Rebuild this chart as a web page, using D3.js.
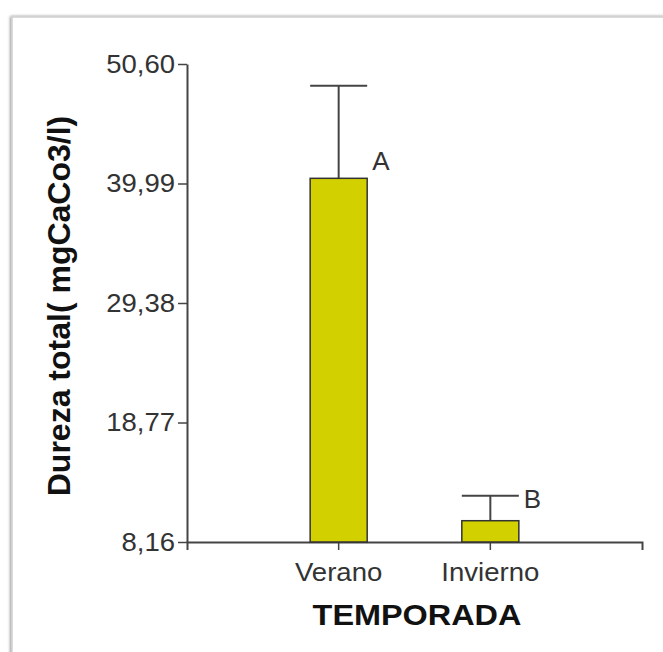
<!DOCTYPE html>
<html>
<head>
<meta charset="utf-8">
<script src="https://cdn.jsdelivr.net/npm/d3@7"></script>
<style>
  html, body { margin: 0; padding: 0; background: #fff; }
  svg { display: block; }
  text { font-family: "Liberation Sans", Arial, sans-serif; }
</style>
</head>
<body>
<svg id="chart" width="663" height="652"></svg>
<script>
// Hardness by season: mean, standard error and significance group letters
const seasons = ["Verano", "Invierno"];
const means = [40.45, 10.05];
const errors = [8.22, 2.22];
const groups = ["A", "B"];
const tickValues = [8.16, 18.77, 29.38, 39.99, 50.60];
const yTitle = "Dureza total( mgCaCo3/l)";
const xTitle = "TEMPORADA";

const svg = d3.select("#chart");
const plotLeft = 187, plotRight = 642, plotTop = 64, plotBottom = 542;
const tickScaleX = 1.1;

// card frame with a soft shadow
const defs = svg.append("defs");
const sh = defs.append("filter").attr("id", "shadow")
  .attr("x", "-5%").attr("y", "-5%").attr("width", "110%").attr("height", "110%");
sh.append("feGaussianBlur").attr("in", "SourceAlpha").attr("stdDeviation", 1.6).attr("result", "b");
sh.append("feOffset").attr("in", "b").attr("dx", -1).attr("dy", 0).attr("result", "o");
sh.append("feComponentTransfer").attr("in", "o").attr("result", "s")
  .append("feFuncA").attr("type", "linear").attr("slope", 0.45);
const merge = sh.append("feMerge");
merge.append("feMergeNode").attr("in", "s");
merge.append("feMergeNode").attr("in", "SourceGraphic");

svg.append("rect")
  .attr("x", 12).attr("y", 17).attr("width", 760).attr("height", 760)
  .attr("fill", "#fff").attr("stroke", "#d0d0d0").attr("stroke-width", 1.5)
  .attr("filter", "url(#shadow)");

const x = d3.scaleBand().domain(seasons).range([plotLeft, plotRight])
  .paddingInner(0.624).paddingOuter(0.812);
const y = d3.scaleLinear().domain([8.16, 50.60]).range([plotBottom, plotTop]);

const fmt = v => d3.format(".2f")(v).replace(".", ",");

// y axis
const yAxis = svg.append("g").attr("transform", `translate(${plotLeft},0)`)
  .call(d3.axisLeft(y).tickValues(tickValues).tickFormat(fmt)
    .tickSizeInner(9).tickSizeOuter(0).tickPadding(3));
yAxis.select(".domain").attr("stroke", "#444").attr("stroke-width", 2);
yAxis.selectAll(".tick line").attr("stroke", "#444").attr("stroke-width", 1.5);
yAxis.selectAll(".tick text")
  .attr("font-size", 25).attr("fill", "#333")
  .attr("font-family", "'Liberation Sans', Arial, sans-serif")
  .attr("x", -12 / tickScaleX)
  .attr("transform", `scale(${tickScaleX},1)`);

// x axis
const xAxis = svg.append("g").attr("transform", `translate(0,${plotBottom})`)
  .call(d3.axisBottom(x).tickSizeInner(8).tickSizeOuter(8).tickPadding(13));
xAxis.select(".domain").attr("stroke", "#444").attr("stroke-width", 2);
xAxis.selectAll(".tick line").attr("stroke", "#444").attr("stroke-width", 1.5);
xAxis.selectAll(".tick text")
  .attr("font-size", 26).attr("fill", "#333")
  .attr("font-family", "'Liberation Sans', Arial, sans-serif")
  .attr("dy", "0.71em")
  .attr("transform", "scale(1.06,1)");

// error bars
const err = svg.append("g");
seasons.forEach((s, i) => {
  const cx = x(s) + x.bandwidth() / 2;
  err.append("line")
    .attr("x1", cx).attr("x2", cx)
    .attr("y1", y(means[i])).attr("y2", y(means[i] + errors[i]))
    .attr("stroke", "#444").attr("stroke-width", 2);
  err.append("line")
    .attr("x1", x(s)).attr("x2", x(s) + x.bandwidth())
    .attr("y1", y(means[i] + errors[i])).attr("y2", y(means[i] + errors[i]))
    .attr("stroke", "#444").attr("stroke-width", 2);
});

// bars
svg.append("g").selectAll("rect").data(seasons).join("rect")
  .attr("x", d => x(d))
  .attr("y", (d, i) => y(means[i]))
  .attr("width", x.bandwidth())
  .attr("height", (d, i) => y(8.16) - y(means[i]))
  .attr("fill", "#d3d000").attr("stroke", "#333").attr("stroke-width", 1.5);

// group letters
seasons.forEach((s, i) => {
  const lx = x(s) + x.bandwidth() + 5;
  const ly = i === 0 ? y(means[i]) - 8 : y(means[i] + errors[i]) + 12;
  svg.append("text")
    .attr("x", lx).attr("y", ly)
    .attr("font-size", 26).attr("fill", "#333")
    .text(groups[i]);
});

// axis titles
svg.append("text")
  .attr("transform", "translate(417,625) scale(1.08,1)")
  .attr("text-anchor", "middle")
  .attr("font-size", 30).attr("font-weight", "bold").attr("fill", "#111")
  .text(xTitle);

svg.append("text")
  .attr("transform", "translate(70,306) rotate(-90)")
  .attr("text-anchor", "middle")
  .attr("font-size", 32).attr("font-weight", "bold").attr("fill", "#111")
  .text(yTitle);
</script>
</body>
</html>
